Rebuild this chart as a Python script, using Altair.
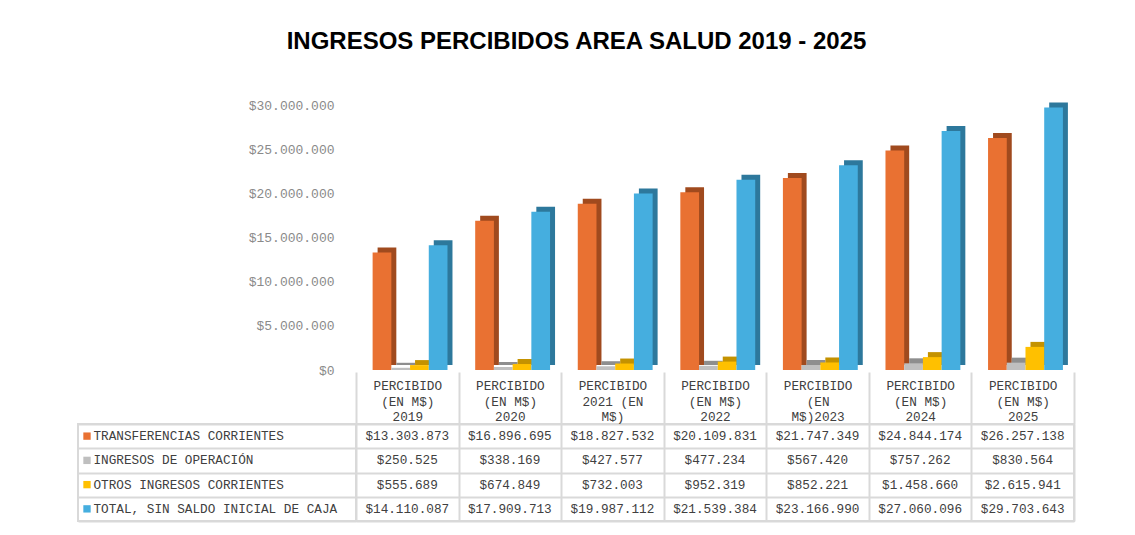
import textwrap
import altair as alt
import pandas as pd

# ---------------- data ----------------
categories = [
    "PERCIBIDO (EN M$) 2019",
    "PERCIBIDO (EN M$) 2020",
    "PERCIBIDO 2021 (EN M$)",
    "PERCIBIDO (EN M$) 2022",
    "PERCIBIDO (EN M$)2023",
    "PERCIBIDO (EN M$) 2024",
    "PERCIBIDO (EN M$) 2025",
]
series = [
    "TRANSFERENCIAS CORRIENTES",
    "INGRESOS DE OPERACIÓN",
    "OTROS INGRESOS CORRIENTES",
    "TOTAL, SIN SALDO INICIAL DE CAJA",
]
transferencias = [13303873, 16896695, 18827532, 20109831, 21747349, 24844174, 26257138]
operacion = [250525, 338169, 427577, 477234, 567420, 757262, 830564]
otros = [555689, 674849, 732003, 952319, 852221, 1458660, 2615941]
total = [14110087, 17909713, 19987112, 21539384, 23166990, 27060096, 29703643]
y_ticks = [0, 5000000, 10000000, 15000000, 20000000, 25000000, 30000000]

values_by_series = [transferencias, operacion, otros, total]
rows = []
for s, vals in zip(series, values_by_series):
    for c, v in zip(categories, vals):
        rows.append({"cat": c, "series": s, "value": v})
df = pd.DataFrame(rows)
lab_df = pd.DataFrame({"series": series})

# ---------------- styles ----------------
front_colors = ["#E97132", "#BFBFBF", "#FFC000", "#45AEDF"]
back_colors = ["#A04A1E", "#8E8E8E", "#C49200", "#2D789C"]
mono = "Liberation Mono"
text_color = "#404040"
line_color = "#D9D9D9"

# wrapped header labels (like Excel data table header)
expr = "datum.label"
for c in reversed(categories):
    arr = "[" + ",".join("'" + part + "'" for part in textwrap.wrap(c, 9)) + "]"
    expr = f"datum.label === '{c}' ? {arr} : ({expr})"

# ---------------- bar chart ----------------
x_bar = alt.X("cat:N", sort=categories,
              scale=alt.Scale(type="band", paddingInner=0, paddingOuter=0), axis=None)
xo_front = alt.XOffset("series:N", sort=series,
                       scale=alt.Scale(paddingInner=0, paddingOuter=0.74, align=0.6))
xo_back = alt.XOffset("series:N", sort=series,
                      scale=alt.Scale(paddingInner=0, paddingOuter=0.74, align=0.78))
y_bar = alt.Y("value:Q", scale=alt.Scale(domain=[0, 30000000]),
              axis=alt.Axis(values=y_ticks, format="$,.0f", title=None, grid=False,
                            ticks=False, domain=False, labelPadding=22, labelFont=mono,
                            labelFontSize=13, labelColor="#8A8A8A"))

base = alt.Chart(df)
back = base.mark_bar(yOffset=-5).encode(
    x=x_bar, xOffset=xo_back, y=y_bar,
    fill=alt.Fill("series:N", scale=alt.Scale(domain=series, range=back_colors), legend=None),
)
front = base.mark_bar().encode(
    x=x_bar, xOffset=xo_front, y=y_bar,
    color=alt.Color("series:N", scale=alt.Scale(domain=series, range=front_colors), legend=None),
)
bars = alt.layer(back, front).resolve_scale(xOffset="independent").properties(
    width=718, height=265, view=alt.ViewBackground(stroke="transparent"))

blank = alt.Chart(pd.DataFrame({"v": [0]})).mark_text(text="").encode(
    x=alt.value(0)).properties(width=278, height=265,
                               view=alt.ViewBackground(stroke="transparent"))

# ---------------- data table ----------------
y_tab = alt.Y("series:N", sort=series,
              scale=alt.Scale(type="band", paddingInner=0, paddingOuter=0),
              axis=alt.Axis(title=None, labels=False, ticks=False, domain=False, grid=True,
                            tickBand="extent", gridColor=line_color, gridWidth=2))

sq = alt.Chart(lab_df).mark_square(size=54, opacity=1).encode(
    x=alt.value(9), y=y_tab,
    color=alt.Color("series:N", scale=alt.Scale(domain=series, range=front_colors), legend=None),
)
txt = alt.Chart(lab_df).mark_text(align="left", font=mono, fontSize=12.7, color=text_color).encode(
    x=alt.value(15.5), y=y_tab, text="series:N")
labels = alt.layer(sq, txt).properties(
    width=278, height=97, view=alt.ViewBackground(stroke=line_color, strokeWidth=2))

x_tab = alt.X("cat:N", sort=categories,
              scale=alt.Scale(type="band", paddingInner=0, paddingOuter=0),
              axis=alt.Axis(orient="top", title=None, domain=False, ticks=True,
                            tickBand="extent", tickSize=52, tickColor=line_color, tickWidth=2,
                            grid=True, gridColor=line_color, gridWidth=2,
                            labelExpr=expr, labelPadding=-13.5, labelBaseline="middle",
                            labelLineHeight=15.5, labelFont=mono, labelFontSize=12.7,
                            labelColor=text_color, labelOverlap=False, labelAngle=0))
vals = alt.Chart(df).mark_text(font=mono, fontSize=12.7, color=text_color).encode(
    x=x_tab, y=y_tab, text=alt.Text("value:Q", format="$,.0f")
).properties(width=718, height=97, view=alt.ViewBackground(stroke=line_color, strokeWidth=2))

chart = alt.concat(
    blank, bars, labels, vals, columns=2,
    spacing={"row": 54, "column": 0}, bounds="flush",
).properties(
    title=alt.TitleParams(text="INGRESOS PERCIBIDOS AREA SALUD 2019 - 2025",
                          font="Liberation Sans", fontSize=24, fontWeight="bold",
                          color="#000000", anchor="middle", offset=45),
    padding={"left": 69, "top": 21, "right": 5, "bottom": 5},
    background="white",
).configure(
    locale=alt.Locale(number=alt.NumberLocale(decimal=",", thousands=".",
                                               grouping=[3], currency=["$", ""]))
)

chart.save("out.html", embed_options={"renderer": "svg", "actions": False})
